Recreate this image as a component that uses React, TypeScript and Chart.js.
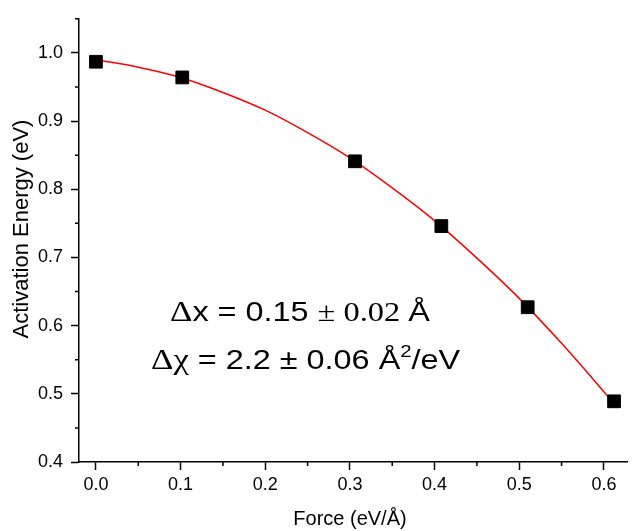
import { useEffect, useRef } from "react";
import { Chart, registerables } from "chart.js";

Chart.register(...registerables);

// ---- data ----
const forceValues = [0, 0.102, 0.306, 0.408, 0.51, 0.612];
const energyValues = [0.987, 0.964, 0.841, 0.746, 0.627, 0.489];

const fitForce = [0, 0.05, 0.1, 0.15, 0.2, 0.25, 0.3, 0.35, 0.4, 0.45, 0.5, 0.55, 0.612];
const fitEnergy = [0.99, 0.979, 0.964, 0.942, 0.916, 0.883, 0.846, 0.802, 0.754, 0.699, 0.64, 0.574, 0.486];

const xMajorTicks = [0, 0.1, 0.2, 0.3, 0.4, 0.5, 0.6];
const xTickLabels = ["0.0", "0.1", "0.2", "0.3", "0.4", "0.5", "0.6"];
const xMinorTicks = [0.05, 0.15, 0.25, 0.35, 0.45, 0.55];
const yMajorTicks = [0.4, 0.5, 0.6, 0.7, 0.8, 0.9, 1.0];
const yTickLabels = ["0.4", "0.5", "0.6", "0.7", "0.8", "0.9", "1.0"];
const yMinorTicks = [0.45, 0.55, 0.65, 0.75, 0.85, 0.95, 1.05];

const xTitle = "Force (eV/Å)";
const yTitle = "Activation Energy (eV)";

const SANS = '"Liberation Sans", Arial, Helvetica, sans-serif';
const SERIF = '"Liberation Serif", "Times New Roman", serif';

type Seg = { text: string; font: string; dy?: number };

const annotationLine1: Seg[] = [
  { text: "Δ", font: `29px ${SERIF}` },
  { text: "x = 0.15 ", font: `27px ${SANS}` },
  { text: "±", font: `27px ${SERIF}` },
  { text: " 0.02 ", font: `27px ${SERIF}` },
  { text: "Å", font: `27px ${SANS}` },
];
const annotationLine2: Seg[] = [
  { text: "Δχ", font: `29px ${SERIF}` },
  { text: " = 2.2 ± 0.06 Å", font: `27px ${SANS}` },
  { text: "2", font: `17px ${SANS}`, dy: -12 },
  { text: "/eV", font: `27px ${SANS}` },
];

const drawRuns = (ctx: CanvasRenderingContext2D, x: number, y: number, segs: Seg[], sx: number) => {
  ctx.save();
  ctx.translate(x, y);
  ctx.scale(sx, 1);
  ctx.fillStyle = "#000";
  ctx.textAlign = "left";
  ctx.textBaseline = "alphabetic";
  let cx = 0;
  for (const s of segs) {
    ctx.font = s.font;
    ctx.fillText(s.text, cx, s.dy || 0);
    cx += ctx.measureText(s.text).width;
  }
  ctx.restore();
};

const decorPlugin = {
  id: "decor",
  afterDraw(chart: any) {
    const ctx: CanvasRenderingContext2D = chart.ctx;
    const xs = chart.scales.x;
    const ys = chart.scales.y;
    const area = chart.chartArea;
    ctx.save();
    ctx.strokeStyle = "#000";
    ctx.lineWidth = 1.5;
    ctx.beginPath();
    for (const v of xMinorTicks) {
      const px = xs.getPixelForValue(v);
      ctx.moveTo(px, area.bottom);
      ctx.lineTo(px, area.bottom + 4);
    }
    for (const v of yMinorTicks) {
      const py = ys.getPixelForValue(v);
      ctx.moveTo(area.left - 4, py);
      ctx.lineTo(area.left, py);
    }
    ctx.stroke();

    // axis titles
    ctx.fillStyle = "#000";
    ctx.font = `20px ${SANS}`;
    ctx.textAlign = "center";
    ctx.textBaseline = "alphabetic";
    ctx.fillText(xTitle, 350, 525);
    ctx.save();
    ctx.translate(28, 229);
    ctx.rotate(-Math.PI / 2);
    ctx.font = `22px ${SANS}`;
    ctx.fillText(yTitle, 0, 0);
    ctx.restore();

    drawRuns(ctx, 170, 321, annotationLine1, 1.2);
    drawRuns(ctx, 151, 369, annotationLine2, 1.2);
    ctx.restore();
  },
};

export default function App() {
  const ref = useRef<HTMLCanvasElement | null>(null);
  useEffect(() => {
    if (!ref.current) return;
    const chart = new Chart(ref.current, {
      type: "scatter",
      data: {
        datasets: [
          {
            data: fitForce.map((x, i) => ({ x, y: fitEnergy[i] })),
            showLine: true,
            borderColor: "#ff0000",
            borderWidth: 1.5,
            pointRadius: 0,
            cubicInterpolationMode: "monotone",
            fill: false,
            order: 2,
          } as any,
          {
            data: forceValues.map((x, i) => ({ x, y: energyValues[i] })),
            pointStyle: "rect",
            pointRadius: 9,
            backgroundColor: "#000",
            borderColor: "#000",
            borderWidth: 1,
            order: 1,
          } as any,
        ],
      },
      options: {
        animation: false,
        responsive: false,
        devicePixelRatio: 1,
        layout: { padding: { top: 13, right: 0, left: 0, bottom: 0 } },
        plugins: { legend: { display: false }, tooltip: { enabled: false } },
        scales: {
          x: {
            type: "linear",
            min: -0.02,
            max: 0.6273,
            afterBuildTicks: (s: any) => {
              s.ticks = xMajorTicks.map((v) => ({ value: v }));
            },
            afterFit: (s: any) => {
              s.height = 69;
            },
            ticks: {
              autoSkip: false,
              maxRotation: 0,
              padding: 4,
              color: "#000",
              font: { family: SANS, size: 18 },
              callback: (_v: any, i: number) => xTickLabels[i],
            },
            grid: { drawOnChartArea: false, tickLength: 8, tickColor: "#000", tickWidth: 1.5 },
            border: { display: true, color: "#000", width: 1.5 },
          },
          y: {
            type: "linear",
            min: 0.4,
            max: 1.05,
            afterBuildTicks: (s: any) => {
              s.ticks = yMajorTicks.map((v) => ({ value: v }));
            },
            afterFit: (s: any) => {
              s.width = 79;
            },
            ticks: {
              autoSkip: false,
              padding: 8,
              color: "#000",
              font: { family: SANS, size: 18 },
              callback: (_v: any, i: number) => yTickLabels[i],
            },
            grid: { drawOnChartArea: false, tickLength: 8, tickColor: "#000", tickWidth: 1.5 },
            border: { display: true, color: "#000", width: 1.5 },
          },
        },
      } as any,
      plugins: [decorPlugin],
    });
    return () => chart.destroy();
  }, []);
  return (
    <div style={{ position: "absolute", left: 0, top: 0, width: 637, height: 531, background: "#fff" }}>
      <canvas ref={ref} width={637} height={531} />
    </div>
  );
}
